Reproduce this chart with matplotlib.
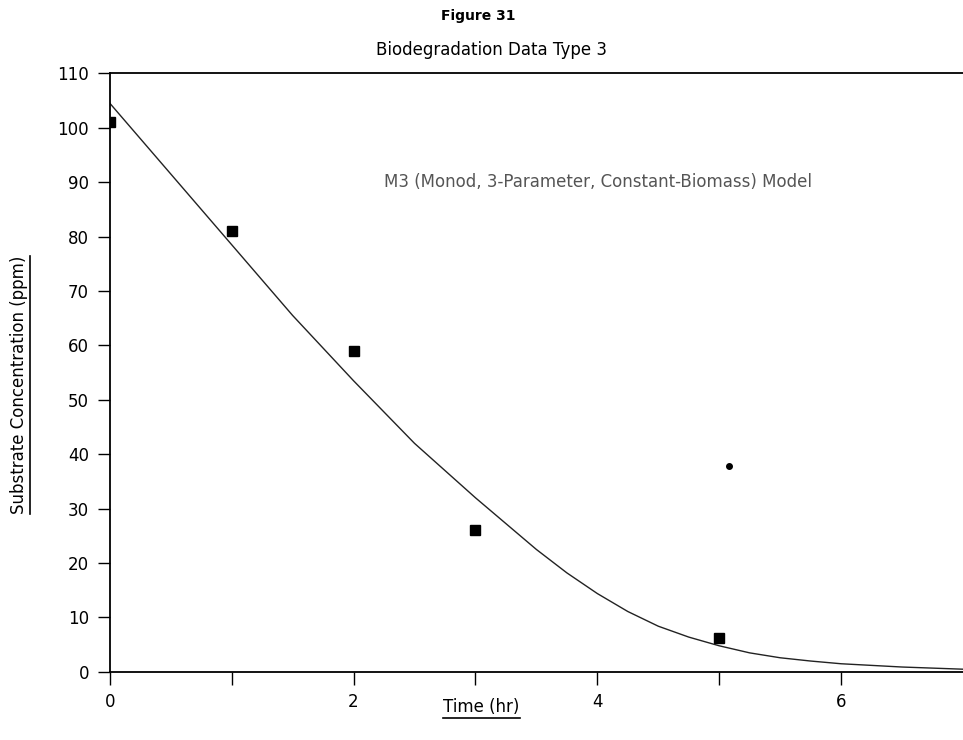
import matplotlib.pyplot as plt
from matplotlib.lines import Line2D

# ── Data ───────────────────────────────────────────────────────
time_obs = [0, 1, 2, 3, 5]
conc_obs = [101, 81, 59, 26, 6.3]

# fitted M3 model curve
time_fit = [0, 0.5, 1, 1.5, 2, 2.5, 3, 3.5, 3.75, 4, 4.25, 4.5, 4.75, 5,
            5.25, 5.5, 5.75, 6, 6.5, 7]
conc_fit = [104.5, 91.5, 78.5, 65.5, 53.5, 42, 32, 22.5, 18.2, 14.4, 11.1, 8.4,
            6.4, 4.8, 3.5, 2.6, 2.0, 1.5, 0.9, 0.5]

# stray speck on the scan
speck_x = [5.08]
speck_y = [37.9]

x_major = [0, 2, 4, 6]
x_minor = [1, 3, 5]
y_ticks = list(range(0, 111, 10))

plt.rcParams["font.family"] = "DejaVu Sans"
plt.rcParams["font.size"] = 12

fig = plt.figure(figsize=(9.63, 7.40), dpi=100)
ax = fig.add_axes([0.114, 0.092, 0.886, 0.809])

ax.plot(time_fit, conc_fit, color="#222", linewidth=1.0)
ax.plot(time_obs, conc_obs, linestyle="none", marker="s", markersize=7,
        color="black")
ax.plot(speck_x, speck_y, linestyle="none", marker="o", markersize=4,
        color="black")

ax.set_xlim(0, 7)
ax.set_ylim(0, 110)
ax.set_xticks(x_major)
ax.set_xticks(x_minor, minor=True)
ax.set_yticks(y_ticks)
ax.tick_params(direction="out", length=9, width=1, colors="black",
               labelsize=12, pad=6)
ax.tick_params(axis="x", which="minor", direction="out", length=9, width=1)

ax.spines["right"].set_visible(False)
for s in ["left", "bottom", "top"]:
    ax.spines[s].set_linewidth(1.3)

ax.text(2.25, 90, "M3 (Monod, 3-Parameter, Constant-Biomass) Model",
        fontsize=12, color="#555", va="center")

fig.text(0.497, 0.978, "Figure 31", ha="center", va="center",
         fontsize=10, fontweight="bold")
fig.text(0.51, 0.932, "Biodegradation Data Type 3", ha="center", va="center",
         fontsize=12)

xl = fig.text(0.50, 0.045, "Time (hr)", ha="center", va="center", fontsize=12)
yl = fig.text(0.020, 0.48, "Substrate Concentration (ppm)", ha="center",
              va="center", rotation=90, fontsize=12)

# underline the axis labels like the original
fig.canvas.draw()
r = fig.canvas.get_renderer()
inv = fig.transFigure.inverted()
b = xl.get_window_extent(r)
(x0, y0), (x1, _) = inv.transform([(b.x0, b.y0 - 2), (b.x1, b.y0 - 2)])
fig.add_artist(Line2D([x0, x1], [y0, y0], color="black", linewidth=1.2,
                      transform=fig.transFigure))
b = yl.get_window_extent(r)
(x0, y0), (_, y1) = inv.transform([(b.x1 + 2, b.y0), (b.x1 + 2, b.y1)])
fig.add_artist(Line2D([x0, x0], [y0, y1], color="black", linewidth=1.2,
                      transform=fig.transFigure))

fig.savefig("out.png", dpi=100)
